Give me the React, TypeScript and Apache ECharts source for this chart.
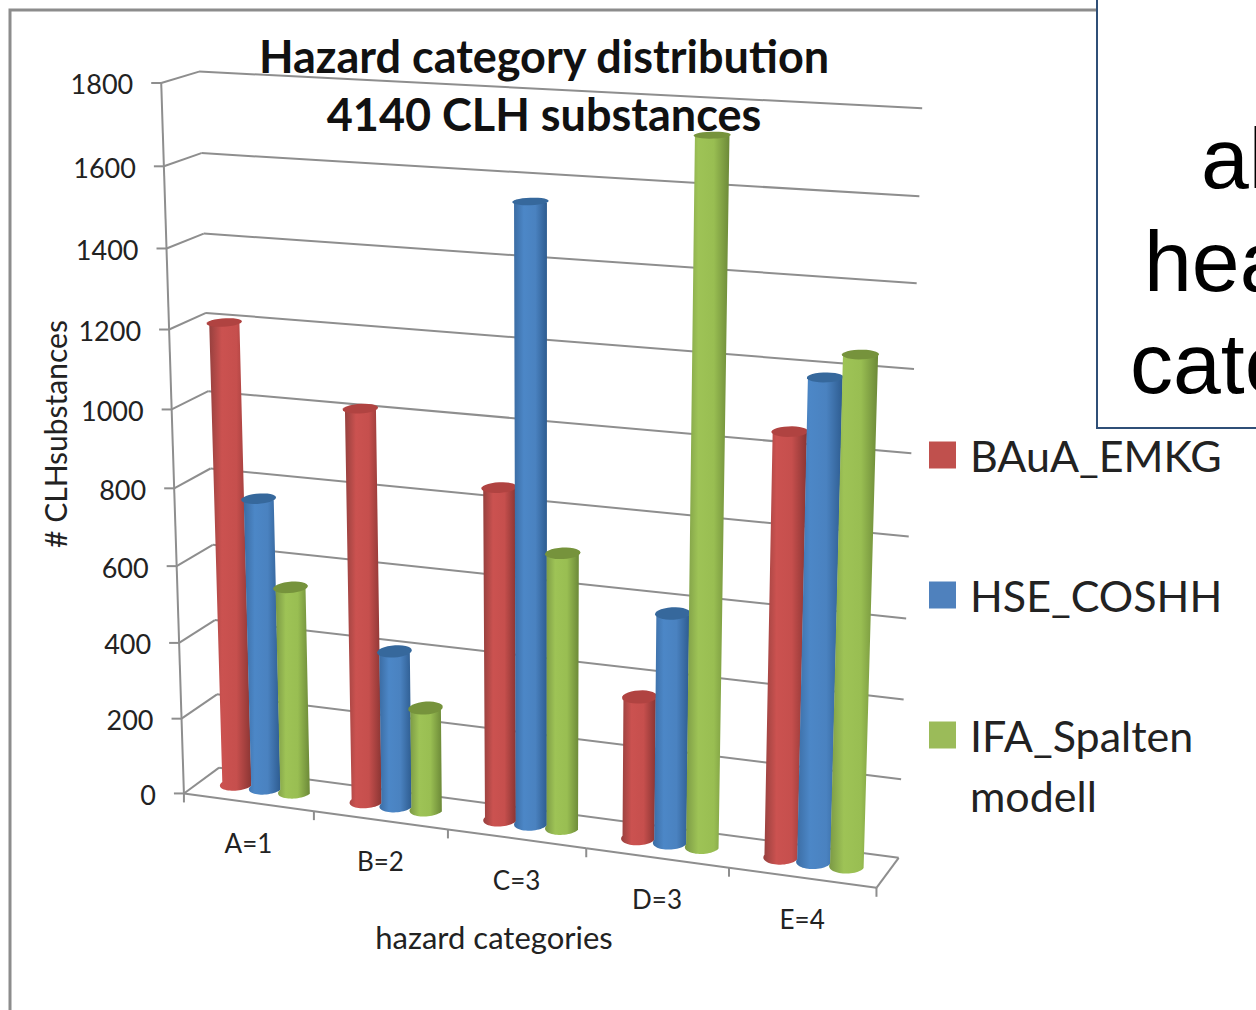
import React, { useEffect, useRef } from "react";
import * as echarts from "echarts";

const categories = ["A=1", "B=2", "C=3", "D=3", "E=4"];
const yTicks = [0, 200, 400, 600, 800, 1000, 1200, 1400, 1600, 1800];
const yMax = 1800;
const baua = [1202, 1015, 850, 362, 1051];
const hse = [762, 405, 1550, 581, 1186];
const ifa = [541, 267, 702, 1729, 1246];
const seriesNames = ["BAuA_EMKG", "HSE_COSHH", "IFA_Spalten\nmodell"];
const legendColors = ["#C0504D", "#4F81BD", "#9BBB59"];
const topColors = ["#B04341", "#36689C", "#76933C"];
const bodyStops = [
  ["#96403E", "#CB5250", "#C64F4D", "#8A3533"],
  ["#3B6CA3", "#4C87C7", "#4A82C0", "#2E5C90"],
  ["#7A9845", "#9EC356", "#99BE52", "#6C8938"],
];

// [u, v, w, screenX, screenY] anchors of the chart box, used to fit the perspective camera
const anchors: number[][] = [
  [0, 0, 1, 161.7, 83.3], [0, 0, 8 / 9, 164, 166], [0, 0, 7 / 9, 166.5, 248.3], [0, 0, 6 / 9, 169.5, 329],
  [0, 0, 1 / 9, 181.7, 717.7], [0, 0, 0, 184.3, 792.7],
  [0, 1, 1, 199, 71.3], [0, 1, 8 / 9, 200.7, 153.3], [0, 1, 7 / 9, 203.3, 234], [0, 1, 6 / 9, 205.5, 313],
  [0, 1, 1 / 9, 217, 695], [0, 1, 0, 220, 768],
  [1, 1, 1, 922.7, 108.7], [1, 1, 8 / 9, 919, 196.7], [1, 1, 7 / 9, 916.7, 283.3], [1, 1, 6 / 9, 914, 369],
  [1, 1, 5 / 9, 911.7, 453], [1, 1, 4 / 9, 909, 536], [1, 1, 3 / 9, 906, 618], [1, 1, 2 / 9, 903.5, 699],
  [1, 1, 1 / 9, 901.7, 779], [1, 1, 0, 898.3, 857.3],
  [0.2, 0, 0, 313, 811.5], [0.4, 0, 0, 448, 830], [0.6, 0, 0, 586, 849], [0.8, 0, 0, 729, 868], [1, 0, 0, 876, 888.3],
];

function fitCamera(): number[] {
  const n = 11;
  const A = Array.from({ length: n }, () => new Array(n + 1).fill(0));
  const addRow = (r: number[], b: number) => {
    for (let i = 0; i < n; i++) {
      for (let j = 0; j < n; j++) A[i][j] += r[i] * r[j];
      A[i][n] += r[i] * b;
    }
  };
  for (const [u, v, w, sx, sy] of anchors) {
    const x = sx / 1000, y = sy / 1000;
    addRow([u, v, w, 1, 0, 0, 0, 0, -x * u, -x * v, -x * w], x);
    addRow([0, 0, 0, 0, u, v, w, 1, -y * u, -y * v, -y * w], y);
  }
  for (let c = 0; c < n; c++) {
    let piv = c;
    for (let r = c + 1; r < n; r++) if (Math.abs(A[r][c]) > Math.abs(A[piv][c])) piv = r;
    [A[c], A[piv]] = [A[piv], A[c]];
    for (let r = 0; r < n; r++) {
      if (r === c) continue;
      const f = A[r][c] / A[c][c];
      for (let k = c; k <= n; k++) A[r][k] -= f * A[c][k];
    }
  }
  return A.map((row, i) => row[n] / row[i]);
}
const cam = fitCamera();
const project = (u: number, v: number, w: number): number[] => {
  const d = cam[8] * u + cam[9] * v + cam[10] * w + 1;
  return [
    (1000 * (cam[0] * u + cam[1] * v + cam[2] * w + cam[3])) / d,
    (1000 * (cam[4] * u + cam[5] * v + cam[6] * w + cam[7])) / d,
  ];
};

const FONT = "Lato";
const GRID = "#8E8E8E";
const seg = (a: number[], b: number[], lw = 2) => ({
  type: "line",
  shape: { x1: a[0], y1: a[1], x2: b[0], y2: b[1] },
  style: { stroke: GRID, lineWidth: lw, fill: "none" },
});
const label = (text: string, x: number, y: number, size: number, align: string) => ({
  type: "text",
  style: { text, x, y, fill: "#222", font: `${size}px ${FONT}`, align, verticalAlign: "middle" },
});

const BAR_START = 0.265;
const BAR_STEP = 0.226;
const BAR_V = 0.54;
const R_U = 0.0228;
const R_V = 0.25;

function renderBar(seriesIdx: number) {
  return (_p: any, api: any) => {
    const cat = api.value(0);
    const val = api.value(1);
    const u = (cat + BAR_START + seriesIdx * BAR_STEP) / categories.length;
    const w = val / yMax;
    const ring = (wh: number, from: number, to: number) => {
      const pts: number[][] = [];
      const N = 28;
      for (let i = 0; i <= N; i++) {
        const t = from + ((to - from) * i) / N;
        pts.push(project(u + R_U * Math.cos(t), BAR_V + R_V * Math.sin(t), wh));
      }
      return pts;
    };
    const stops = bodyStops[seriesIdx];
    const body = [project(u - R_U, BAR_V, w), project(u + R_U, BAR_V, w), ...ring(0, 0, -Math.PI)];
    return {
      type: "group",
      children: [
        {
          type: "polygon",
          shape: { points: body },
          style: {
            fill: {
              type: "linear", x: 0, y: 0, x2: 1, y2: 0,
              colorStops: [
                { offset: 0, color: stops[0] },
                { offset: 0.3, color: stops[1] },
                { offset: 0.65, color: stops[2] },
                { offset: 1, color: stops[3] },
              ],
            },
          },
        },
        { type: "polygon", shape: { points: ring(w, 0, Math.PI * 2) }, style: { fill: topColors[seriesIdx] } },
      ],
    };
  };
}

const renderGridLine = (_p: any, api: any) => {
  const w = api.value(0) / yMax;
  const front = project(0, 0, w);
  const back = project(0, 1, w);
  const right = project(1, 1, w);
  return {
    type: "group",
    children: [
      seg(front, back),
      seg(back, right),
      seg([front[0] - 10, front[1]], front),
      label(String(api.value(0)), front[0] - 28, front[1] + 1, 27, "right"),
    ],
  };
};

const renderFloor = (_p: any, api: any) => {
  const i = api.value(0);
  const n = categories.length;
  const a = project(i / n, 0, 0);
  const b = project((i + 1) / n, 0, 0);
  const mid = project((i + 0.5) / n, 0, 0);
  const children: any[] = [
    seg(a, b),
    seg(b, [b[0], b[1] + 9]),
    label(categories[i], mid[0], mid[1] + 41, 26, "center"),
  ];
  if (i === 0) children.push(seg(a, [a[0], a[1] + 9]), seg(a, project(0, 0, 1)));
  if (i === n - 1) children.push(seg(b, project(1, 1, 0)));
  return { type: "group", children };
};

const barValues = [baua, hse, ifa];
const LEGEND_TEXT = { fontFamily: FONT, fontSize: 43, lineHeight: 60, color: "#222" };

export default function App() {
  const ref = useRef<HTMLDivElement>(null);
  useEffect(() => {
    const chart = echarts.init(ref.current!, undefined, { renderer: "svg" });
    chart.setOption({
      animation: false,
      backgroundColor: "#fff",
      title: {
        text: "Hazard category distribution\n4140 CLH substances",
        left: 539,
        top: 22,
        textAlign: "center",
        textStyle: { fontFamily: FONT, fontSize: 45, fontWeight: "bold", lineHeight: 58, color: "#111" },
      },
      legend: {
        orient: "vertical",
        left: 929,
        top: 365,
        padding: 0,
        itemWidth: 27,
        itemHeight: 27,
        itemGap: -40,
        selectedMode: false,
        icon: "rect",
        formatter: (name: string) => (name.includes("\n") ? "\n" + name : name),
        textStyle: { ...LEGEND_TEXT, padding: [60, 0, 60, 9] },
        data: [
          { name: seriesNames[0] },
          { name: seriesNames[1] },
          { name: seriesNames[2], textStyle: { ...LEGEND_TEXT, padding: [0, 0, 0, 9] } },
        ],
      },
      graphic: [
        { type: "polyline", shape: { points: [[10, 1010], [10, 10], [1097, 10]] }, style: { stroke: "#8C8C8C", lineWidth: 3, fill: "none" } },
        { type: "rect", shape: { x: 1097, y: -5, width: 200, height: 433 }, style: { stroke: "#2F4F77", lineWidth: 2, fill: "#fff" } },
        { type: "text", style: { text: "al", x: 1201, y: 115, fill: "#000", font: "86px 'Liberation Sans'" } },
        { type: "text", style: { text: "hea", x: 1144, y: 218, fill: "#000", font: "86px 'Liberation Sans'" } },
        { type: "text", style: { text: "cate", x: 1130, y: 320, fill: "#000", font: "86px 'Liberation Sans'" } },
        { type: "text", style: { text: "hazard categories", x: 494, y: 937, fill: "#222", font: `31px ${FONT}`, align: "center", verticalAlign: "middle" } },
        { type: "text", rotation: Math.PI / 2, x: 55, y: 434, style: { text: "# CLHsubstances", x: 0, y: 0, fill: "#222", font: `30px ${FONT}`, align: "center", verticalAlign: "middle" } },
      ],
      series: [
        { type: "custom", name: "grid", coordinateSystem: "none", silent: true, data: yTicks.map((t) => [t]), renderItem: renderGridLine },
        { type: "custom", name: "floor", coordinateSystem: "none", silent: true, data: categories.map((_, i) => [i]), renderItem: renderFloor },
        ...barValues.map((vals, s) => ({
          type: "custom",
          name: seriesNames[s],
          coordinateSystem: "none",
          silent: true,
          itemStyle: { color: legendColors[s] },
          data: vals.map((v, i) => [i, v]),
          renderItem: renderBar(s),
        })),
      ],
    });
    return () => chart.dispose();
  }, []);
  return <div ref={ref} style={{ position: "absolute", left: 0, top: 0, width: 1256, height: 1010 }} />;
}
